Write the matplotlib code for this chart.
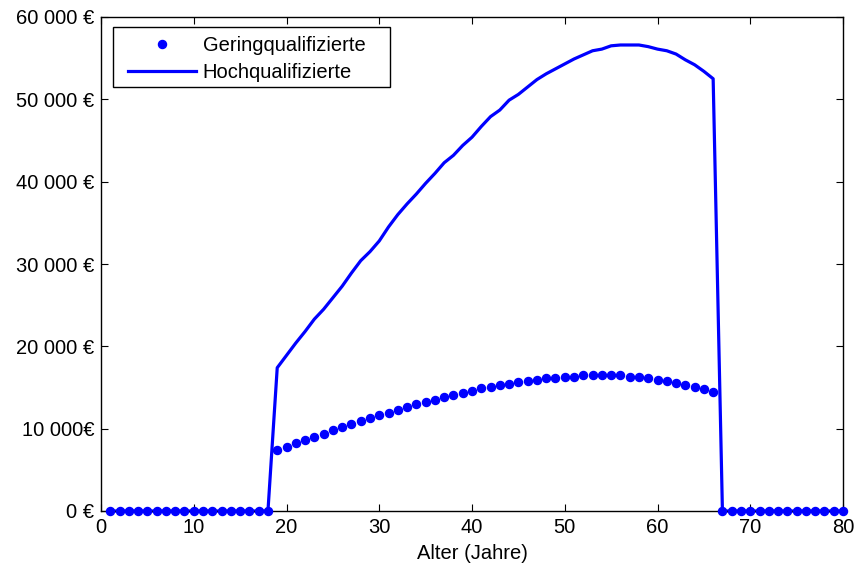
import matplotlib
matplotlib.use('Agg')
import matplotlib.pyplot as plt
from matplotlib.patches import Rectangle

plt.rcParams['font.family'] = ['Liberation Sans', 'DejaVu Sans']

# Alter 1..80
alter = list(range(1, 81))

# Einkommen Geringqualifizierte, Alter 19..66 (sonst 0)
gering_aktiv = [7460, 7780, 8260, 8670, 8990, 9310, 9880, 10190, 10520, 10920,
                11240, 11600, 11930, 12300, 12610, 13020, 13180, 13540, 13870, 14070,
                14390, 14550, 14910, 15080, 15270, 15440, 15640, 15800, 15920, 16120,
                16120, 16320, 16320, 16530, 16530, 16530, 16530, 16530, 16320, 16320,
                16120, 15960, 15760, 15560, 15360, 15030, 14840, 14510]

# Einkommen Hochqualifizierte, Alter 19..66 (sonst 0)
hoch_aktiv = [17400, 18900, 20400, 21800, 23300, 24500, 25900, 27300, 28900, 30400,
              31500, 32800, 34500, 36000, 37300, 38500, 39800, 41000, 42300, 43200,
              44400, 45400, 46700, 47900, 48700, 49900, 50600, 51500, 52400, 53100,
              53700, 54300, 54900, 55400, 55900, 56100, 56500, 56600, 56600, 56600,
              56400, 56100, 55900, 55500, 54800, 54200, 53400, 52500]

gering = [0] * 18 + gering_aktiv + [0] * 14
hoch = [0] * 18 + hoch_aktiv + [0] * 14

y_ticks = [0, 10000, 20000, 30000, 40000, 50000, 60000]
y_labels = ['0 €', '10 000€', '20 000 €', '30 000 €', '40 000 €', '50 000 €', '60 000 €']

W, H = 856, 567
fs = 14.5

fig = plt.figure(figsize=(W / 100, H / 100), dpi=100)
ax = fig.add_axes([101 / W, 1 - 511 / H, 742 / W, 494 / H])

blue = '#0000ff'
ax.plot(alter, gering, 'o', color=blue, markersize=5.8, clip_on=False,
        label='Geringqualifizierte', zorder=3)
ax.plot(alter, hoch, '-', color=blue, linewidth=2.3, clip_on=False,
        label='Hochqualifizierte', zorder=2)

ax.set_xlim(0, 80)
ax.set_ylim(0, 60000)
ax.set_xticks(range(0, 81, 10))
ax.set_yticks(y_ticks)
ax.set_yticklabels(y_labels)
ax.tick_params(direction='in', length=5, width=0.8, top=True, right=True,
               labelsize=fs, pad=5)
ax.set_xlabel('Alter (Jahre)', fontsize=fs, labelpad=5)
for s in ax.spines.values():
    s.set_linewidth(1.0)

# Legendenrahmen wie im Original (breiter als der Inhalt)
box = Rectangle((113 / W, 1 - 87 / H), 277 / W, 60 / H,
                transform=fig.transFigure, facecolor='white',
                edgecolor='black', linewidth=1.0, zorder=4, clip_on=False)
ax.add_patch(box)
leg = ax.legend(loc='upper left', bbox_to_anchor=(128 / W, 1 - 36 / H),
                bbox_transform=fig.transFigure, fontsize=fs, frameon=False,
                handlelength=3.4, borderaxespad=0, borderpad=0,
                labelspacing=0.42, handletextpad=0.3)
leg.set_zorder(5)

fig.savefig('out.png', dpi=100)
